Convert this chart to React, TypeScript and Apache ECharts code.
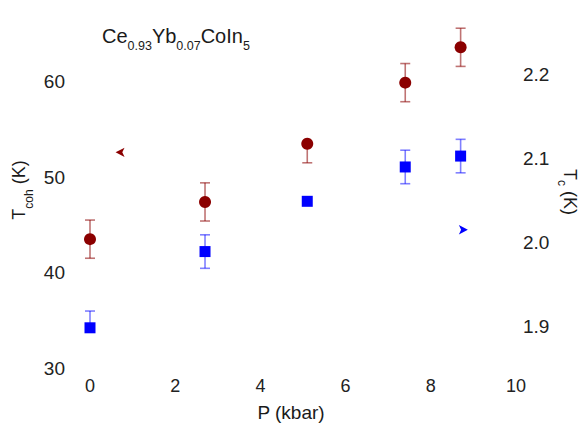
import React, { useEffect, useRef } from "react";
import * as echarts from "echarts";

// Pressure (kbar)
const pressure = [0, 2.7, 5.1, 7.4, 8.7];
// Coherence temperature T_coh (K), left axis
const tcoh = [43.5, 47.4, 53.5, 59.9, 63.6];
const tcohErrUp = [2, 2, 0, 2, 2];
const tcohErrDown = [2, 2, 2, 2, 2];
// Superconducting Tc (K), right axis
const tc = [1.898, 1.989, 2.049, 2.09, 2.103];
const tcErrUp = [0.02, 0.02, 0, 0.02, 0.02];
const tcErrDown = [0, 0.02, 0, 0.02, 0.02];
// axis indicator arrows
const leftAxisArrow = [[0.6, 52.6]];
const rightAxisArrow = [[8.87, 2.015]];
// tick labels
const xTicks = [0, 2, 4, 6, 8, 10];
const leftTicks = [30, 40, 50, 60];
const rightTicks = [1.9, 2.0, 2.1, 2.2];

const FONT = "Liberation Sans, Arial, Helvetica, sans-serif";
const RED = "#8b0000";
const BLUE = "#0000ff";

function errorSeries(name: string, ys: number[], lo: number[], hi: number[], yAxisIndex: number, color: string) {
  return {
    type: "custom",
    name,
    yAxisIndex,
    silent: true,
    z: 1,
    encode: { x: 0, y: 1 },
    data: pressure.map((p, i) => [p, ys[i], lo[i], hi[i]]),
    renderItem: (params: any, api: any) => {
      const x = api.value(0);
      const y = api.value(1);
      const l = api.value(2);
      const h = api.value(3);
      const top = api.coord([x, y + h]);
      const bot = api.coord([x, y - l]);
      const children: any[] = [];
      const st = { stroke: color, lineWidth: 1.6 };
      if (l > 0 || h > 0) {
        children.push({ type: "line", shape: { x1: top[0], y1: top[1], x2: bot[0], y2: bot[1] }, style: st });
      }
      if (h > 0) children.push({ type: "line", shape: { x1: top[0] - 5, y1: top[1], x2: top[0] + 5, y2: top[1] }, style: st });
      if (l > 0) children.push({ type: "line", shape: { x1: bot[0] - 5, y1: bot[1], x2: bot[0] + 5, y2: bot[1] }, style: st });
      return { type: "group", children };
    },
  };
}

export default function App() {
  const ref = useRef<HTMLDivElement>(null);
  useEffect(() => {
    if (!ref.current) return;
    const chart = echarts.init(ref.current, undefined, { renderer: "svg" });
    const isTick = (v: number, arr: number[]) => arr.some((t) => Math.abs(t - v) < 1e-6);
    chart.setOption({
      animation: false,
      backgroundColor: "#ffffff",
      grid: { left: 90, right: 66, top: 12, bottom: 55, containLabel: false },
      xAxis: {
        type: "value",
        min: 0,
        max: 10,
        interval: 2,
        axisLine: { show: false },
        axisTick: { show: false },
        splitLine: { show: false },
        axisLabel: {
          margin: 9,
          fontSize: 18,
          fontFamily: FONT,
          color: "#222",
          formatter: (v: number) => (isTick(v, xTicks) ? String(v) : ""),
        },
      },
      yAxis: [
        {
          type: "value",
          min: 30,
          max: 67.3,
          interval: 10,
          axisLine: { show: false },
          axisTick: { show: false },
          splitLine: { show: false },
          axisLabel: {
            margin: 25,
            fontSize: 19,
            fontFamily: FONT,
            color: "#222",
            showMaxLabel: false,
            formatter: (v: number) => (isTick(v, leftTicks) ? String(v) : ""),
          },
        },
        {
          type: "value",
          position: "right",
          min: 1.85,
          max: 2.275,
          interval: 0.05,
          axisLine: { show: false },
          axisTick: { show: false },
          splitLine: { show: false },
          axisLabel: {
            margin: 7,
            fontSize: 19,
            fontFamily: FONT,
            color: "#222",
            showMaxLabel: false,
            formatter: (v: number) => (isTick(v, rightTicks) ? v.toFixed(1) : ""),
          },
        },
      ],
      graphic: [
        {
          type: "text",
          x: 102,
          y: 36,
          style: {
            text: "{a|Ce}{b|0.93}{a|Yb}{b|0.07}{a|CoIn}{b|5}",
            align: "left",
            verticalAlign: "middle",
            fill: "#1a1a1a",
            rich: {
              a: { fontSize: 20, fontFamily: FONT, fill: "#1a1a1a" },
              b: { fontSize: 12.5, fontFamily: FONT, fill: "#1a1a1a", padding: [20, 0, 0, 0] },
            },
          },
        },
        {
          type: "text",
          x: 19,
          y: 190,
          rotation: Math.PI / 2,
          style: {
            text: "{a|T}{b|coh}{a| (K)}",
            align: "center",
            verticalAlign: "middle",
            fill: "#1a1a1a",
            rich: {
              a: { fontSize: 18, fontFamily: FONT, fill: "#1a1a1a" },
              b: { fontSize: 12, fontFamily: FONT, fill: "#1a1a1a", padding: [20, 0, 0, 0] },
            },
          },
        },
        {
          type: "text",
          x: 570,
          y: 192,
          rotation: -Math.PI / 2,
          style: {
            text: "{a|T}{b|c}{a| (K)}",
            align: "center",
            verticalAlign: "middle",
            fill: "#1a1a1a",
            rich: {
              a: { fontSize: 18, fontFamily: FONT, fill: "#1a1a1a" },
              b: { fontSize: 12, fontFamily: FONT, fill: "#1a1a1a", padding: [16, 0, 0, 0] },
            },
          },
        },
        {
          type: "text",
          x: 291,
          y: 412,
          style: {
            text: "P (kbar)",
            align: "center",
            verticalAlign: "middle",
            fontSize: 19,
            fontFamily: FONT,
            fill: "#1a1a1a",
          },
        },
      ],
      series: [
        errorSeries("Tcoh err", tcoh, tcohErrDown, tcohErrUp, 0, "rgba(139,0,0,0.55)"),
        errorSeries("Tc err", tc, tcErrDown, tcErrUp, 1, "rgba(0,0,255,0.5)"),
        {
          type: "scatter",
          name: "Tcoh",
          yAxisIndex: 0,
          clip: false,
          z: 3,
          symbol: "circle",
          symbolSize: 12,
          itemStyle: { color: RED, opacity: 1 },
          data: pressure.map((p, i) => [p, tcoh[i]]),
        },
        {
          type: "scatter",
          name: "Tc",
          yAxisIndex: 1,
          clip: false,
          z: 3,
          symbol: "rect",
          symbolSize: 11,
          itemStyle: { color: BLUE, opacity: 1 },
          data: pressure.map((p, i) => [p, tc[i]]),
        },
        {
          type: "scatter",
          name: "left axis",
          yAxisIndex: 0,
          clip: false,
          symbol: "arrow",
          symbolSize: [7, 9],
          symbolRotate: 90,
          itemStyle: { color: RED, opacity: 1 },
          data: leftAxisArrow,
        },
        {
          type: "scatter",
          name: "right axis",
          yAxisIndex: 1,
          clip: false,
          symbol: "arrow",
          symbolSize: [7, 9],
          symbolRotate: -90,
          itemStyle: { color: BLUE, opacity: 1 },
          data: rightAxisArrow,
        },
      ],
    });
    return () => chart.dispose();
  }, []);
  return <div ref={ref} style={{ position: "fixed", left: 0, top: 0, width: 582, height: 423 }} />;
}
